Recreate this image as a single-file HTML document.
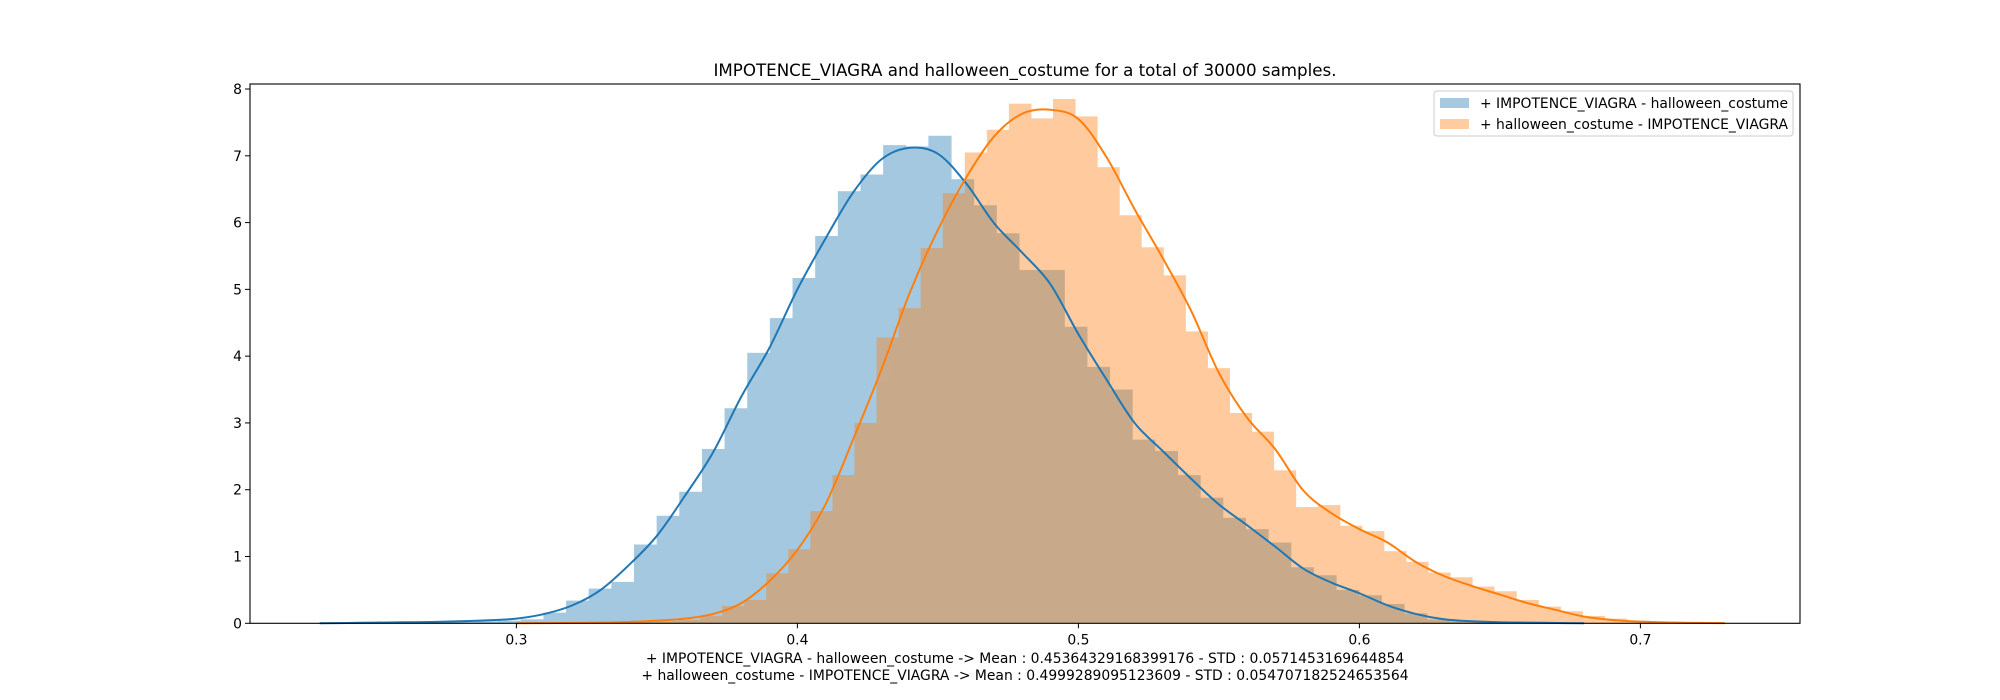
<!DOCTYPE html>
<html><head><meta charset="utf-8"><style>
html,body{margin:0;padding:0;background:#fff;}
svg{display:block;font-family:"DejaVu Sans","Liberation Sans",sans-serif;}
</style></head><body>
<svg id="chart" width="2000" height="700" xmlns="http://www.w3.org/2000/svg">
<rect width="2000" height="700" fill="#fff"/>
<text x="1025" y="76" font-size="16.7" text-anchor="middle" fill="#000">IMPOTENCE_VIAGRA and halloween_costume for a total of 30000 samples.</text>
<g id="barsBlue" opacity="0.4"></g>
<g id="barsOrange" opacity="0.4"></g>
<g id="lines"></g>
<g id="axes"></g>
<text x="1025" y="663" font-size="13.9" text-anchor="middle" fill="#000">+ IMPOTENCE_VIAGRA - halloween_costume -&gt; Mean : 0.45364329168399176 - STD : 0.0571453169644854</text>
<text x="1025" y="680" font-size="13.9" text-anchor="middle" fill="#000">+ halloween_costume - IMPOTENCE_VIAGRA -&gt; Mean : 0.4999289095123609 - STD : 0.054707182524653564</text>
<g>
<rect x="1434" y="91" width="359" height="45" rx="3" fill="#fff" fill-opacity="0.8" stroke="#ccc" stroke-width="1"/>
<rect x="1440" y="98" width="29" height="10" fill="#1f77b4" fill-opacity="0.4"/>
<text x="1480" y="108" font-size="13.9" fill="#000">+ IMPOTENCE_VIAGRA - halloween_costume</text>
<rect x="1440" y="119" width="29" height="10" fill="#ff7f0e" fill-opacity="0.4"/>
<text x="1480" y="129" font-size="13.9" fill="#000">+ halloween_costume - IMPOTENCE_VIAGRA</text>
</g>
</svg>
<script>
const blueStart = 0.30961 - 7*0.00806;
const blueWidth = 0.00806;
const blueHeights = [0.01,0.01,0.02,0.02,0.03,0.04,0.06,
 0.16,0.34,0.52,0.62,1.18,1.61,1.97,2.61,3.22,4.05,4.57,5.17,5.80,6.47,6.72,7.16,7.14,7.30,6.65,6.26,5.84,5.29,5.29,4.44,3.84,3.50,2.75,2.58,2.22,1.88,1.58,1.41,1.21,0.84,0.72,0.50,0.42,0.29,0.15,0.06,0.03,0.02,0.01];
const orangeStart = 0.36537 - 4*0.00785;
const orangeWidth = 0.00785;
const orangeHeights = [0.01,0.02,0.03,0.05,
 0.11,0.26,0.35,0.75,1.11,1.68,2.22,3.00,4.28,4.72,5.62,6.44,7.05,7.39,7.78,7.56,7.85,7.59,6.83,6.11,5.63,5.21,4.37,3.82,3.15,2.87,2.29,1.74,1.77,1.46,1.38,1.08,0.92,0.76,0.69,0.55,0.48,0.35,0.25,0.18,0.11,0.07,0.04,0.02,0.01];
const kdeX = [0.23,0.24,0.25,0.26,0.27,0.28,0.29,0.30,0.31,0.32,0.33,0.34,0.35,0.36,0.37,0.38,0.39,0.40,0.41,0.42,0.43,0.44,0.45,0.46,0.47,0.48,0.49,0.50,0.51,0.52,0.53,0.54,0.55,0.56,0.57,0.58,0.59,0.60,0.61,0.62,0.63,0.64,0.65,0.66,0.67,0.68,0.69,0.70,0.71,0.72,0.73];
const blueKde = [0.0,0.005,0.01,0.015,0.02,0.03,0.045,0.07,0.14,0.27,0.50,0.87,1.31,1.91,2.56,3.39,4.12,5.00,5.76,6.46,6.95,7.12,7.03,6.59,5.99,5.55,5.08,4.33,3.65,3.00,2.58,2.17,1.78,1.47,1.15,0.82,0.61,0.45,0.27,0.14,0.06,0.03,0.015,0.01,0.005,0.0,null,null,null,null,null];
const orangeKde = [null,null,null,null,null,null,null,0.0,0.003,0.006,0.01,0.02,0.04,0.07,0.14,0.30,0.63,1.10,1.78,2.77,3.81,4.95,5.89,6.67,7.29,7.63,7.69,7.55,6.98,6.20,5.47,4.69,3.75,3.08,2.61,1.99,1.65,1.41,1.21,0.92,0.71,0.56,0.43,0.30,0.20,0.10,0.05,0.025,0.012,0.006,0.002];
const xTicks = [0.3,0.4,0.5,0.6,0.7];
const xTickLabels = ["0.3","0.4","0.5","0.6","0.7"];
const yTicks = [0,1,2,3,4,5,6,7,8];
const yTickLabels = ["0","1","2","3","4","5","6","7","8"];

const L=250,R=1800,T=84,B=623.3;
const xMin=0.2052,xMax=0.7568,yMin=0,yMax=8.075;
function xs(v){return L+(v-xMin)/(xMax-xMin)*(R-L);}
function ys(v){return B-(v-yMin)/(yMax-yMin)*(B-T);}
const NS="http://www.w3.org/2000/svg";
function drawBars(g,start,w,hs,color,name){
  hs.forEach((h,i)=>{
    const r=document.createElementNS(NS,'rect');
    const x0=xs(start+i*w),x1=xs(start+(i+1)*w);
    r.setAttribute('x',x0);r.setAttribute('width',x1-x0+0.5);
    r.setAttribute('y',ys(h));r.setAttribute('height',ys(0)-ys(h));
    r.setAttribute('fill',color);
    
    
    g.appendChild(r);
  });
}
drawBars(document.getElementById('barsBlue'),blueStart,blueWidth,blueHeights,'#1f77b4','blue-histogram-bar');
drawBars(document.getElementById('barsOrange'),orangeStart,orangeWidth,orangeHeights,'#ff7f0e','orange-histogram-bar');

const linesG=document.getElementById('lines');
function drawKde(vals,color,name){
  const pts=[];
  vals.forEach((v,i)=>{if(v!==null)pts.push([xs(kdeX[i]),ys(v)]);});
  let d='M'+pts[0][0]+','+pts[0][1];
  for(let i=0;i<pts.length-1;i++){
    const p0=pts[Math.max(0,i-1)],p1=pts[i],p2=pts[i+1],p3=pts[Math.min(pts.length-1,i+2)];
    const c1=[p1[0]+(p2[0]-p0[0])/6,p1[1]+(p2[1]-p0[1])/6];
    const c2=[p2[0]-(p3[0]-p1[0])/6,p2[1]-(p3[1]-p1[1])/6];
    d+=' C'+c1[0]+','+c1[1]+' '+c2[0]+','+c2[1]+' '+p2[0]+','+p2[1];
  }
  const p=document.createElementNS(NS,'path');
  p.setAttribute('d',d);p.setAttribute('fill','none');
  p.setAttribute('stroke',color);p.setAttribute('stroke-width','2');
  
  
  linesG.appendChild(p);
}
drawKde(blueKde,'#1f77b4','blue-kde-line');
drawKde(orangeKde,'#ff7f0e','orange-kde-line');

const axG=document.getElementById('axes');
const frame=document.createElementNS(NS,'rect');
frame.setAttribute('x',L);frame.setAttribute('y',T);
frame.setAttribute('width',R-L);frame.setAttribute('height',B-T);
frame.setAttribute('fill','none');frame.setAttribute('stroke','#000');frame.setAttribute('stroke-width','1.1');


axG.appendChild(frame);
xTicks.forEach((v,i)=>{
  const ln=document.createElementNS(NS,'line');
  ln.setAttribute('x1',xs(v));ln.setAttribute('x2',xs(v));
  ln.setAttribute('y1',B);ln.setAttribute('y2',B+5);
  ln.setAttribute('stroke','#000');
  
  
  axG.appendChild(ln);
  const t=document.createElementNS(NS,'text');
  t.setAttribute('x',xs(v));t.setAttribute('y',B+21);
  t.setAttribute('font-size','13.9');t.setAttribute('text-anchor','middle');
  t.textContent=xTickLabels[i];
  
  
  axG.appendChild(t);
});
yTicks.forEach((v,i)=>{
  const ln=document.createElementNS(NS,'line');
  ln.setAttribute('x1',L-5);ln.setAttribute('x2',L);
  ln.setAttribute('y1',ys(v));ln.setAttribute('y2',ys(v));
  ln.setAttribute('stroke','#000');
  
  
  axG.appendChild(ln);
  const t=document.createElementNS(NS,'text');
  t.setAttribute('x',L-8);t.setAttribute('y',ys(v)+5);
  t.setAttribute('font-size','13.9');t.setAttribute('text-anchor','end');
  t.textContent=yTickLabels[i];
  
  
  axG.appendChild(t);
});
</script>
</body></html>
